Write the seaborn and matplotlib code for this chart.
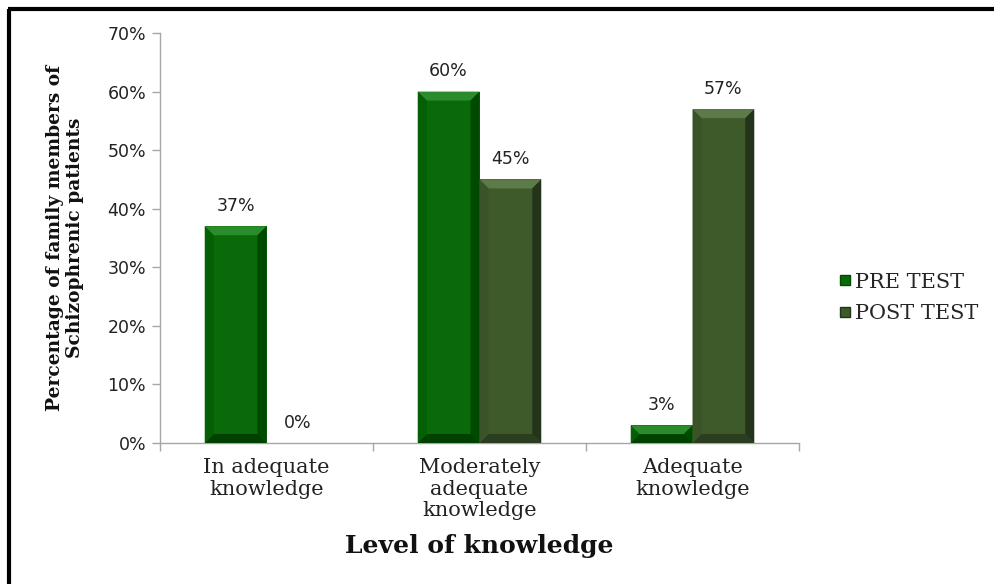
import matplotlib
matplotlib.use("Agg")
import matplotlib.pyplot as plt
import matplotlib.transforms as mtransforms
from matplotlib.patches import Polygon
from matplotlib.lines import Line2D
import seaborn as sns
import pandas as pd
import numpy as np

categories = ["In adequate\nknowledge", "Moderately\nadequate\nknowledge", "Adequate\nknowledge"]
series_names = ["PRE TEST", "POST TEST"]
pre_test = [37, 60, 3]
post_test = [0, 45, 57]
y_ticks = [0, 10, 20, 30, 40, 50, 60, 70]

face = {"PRE TEST": "#0a6a0a", "POST TEST": "#3e5a2b"}
light = {"PRE TEST": "#2a8c2a", "POST TEST": "#5d7b49"}
dark = {"PRE TEST": "#004a00", "POST TEST": "#23341a"}
darker = {"PRE TEST": "#004000", "POST TEST": "#2a3d1f"}
lside = {"PRE TEST": "#056005", "POST TEST": "#3a5328"}

df = pd.DataFrame({
    "cat": categories * 2,
    "series": [series_names[0]] * 3 + [series_names[1]] * 3,
    "value": pre_test + post_test,
})

sns.set_style("white")
W, H = 994, 584
fig = plt.figure(figsize=(W / 100, H / 100), dpi=100)
ax = fig.add_axes([160 / W, 1 - 443 / H, (799 - 160) / W, (443 - 33) / H])

sns.barplot(data=df, x="cat", y="value", hue="series", order=categories,
            hue_order=series_names, palette=face, width=0.58, gap=0,
            ax=ax, legend=False, saturation=1, edgecolor="none", linewidth=0)

ax.set_ylim(0, 70)
ax.set_xlim(-0.5, 2.5)
ax.set_yticks(y_ticks)
ax.set_yticklabels([f"{t}%" for t in y_ticks], family="DejaVu Sans", fontsize=12.5, color="#222222")
ax.tick_params(axis="y", length=6, width=1, color="#a6a6a6", pad=4, direction="out", left=True)
ax.set_xticks(range(3))
ax.set_xticklabels(categories, family="DejaVu Serif", fontsize=15, color="#222222", linespacing=1.15)
ax.tick_params(axis="x", length=0, pad=11)
ax.set_xticks([-0.5, 0.5, 1.5, 2.5], minor=True)
ax.tick_params(axis="x", which="minor", length=6, width=1, color="#a6a6a6", direction="out", bottom=True)
for s in ["top", "right"]:
    ax.spines[s].set_visible(False)
for s in ["left", "bottom"]:
    ax.spines[s].set_color("#a6a6a6")
    ax.spines[s].set_linewidth(1)
ax.set_xlabel("")
ax.set_ylabel("")

fig.text(479 / W, 1 - 546 / H, "Level of knowledge", family="DejaVu Serif", fontweight="bold",
         fontsize=18, ha="center", va="center", color="#111111")
fig.text(65 / W, 1 - 238 / H, "Percentage of family members of\nSchizophrenic patients",
         family="DejaVu Serif", fontweight="bold", fontsize=13.4, rotation=90,
         ha="center", va="center", linespacing=1.2, color="#111111")

# data labels
for cont, name in zip(ax.containers, series_names):
    vals = pre_test if name == "PRE TEST" else post_test
    for bar, v in zip(cont, vals):
        cx = bar.get_x() + bar.get_width() / 2
        ax.annotate(f"{v}%", (cx, bar.get_height()), xytext=(0, 8), textcoords="offset points",
                    ha="center", va="bottom", family="DejaVu Sans", fontsize=12.5, color="#222222")

fig.canvas.draw()
ident = mtransforms.IdentityTransform()
for cont, name in zip(ax.containers, series_names):
    for bar in cont:
        bb = bar.get_window_extent()
        x0, x1, y0, y1 = bb.x0, bb.x1, bb.y0, bb.y1
        if y1 - y0 < 1:
            continue
        b = min(9, (x1 - x0) / 2, (y1 - y0) / 2)
        polys = [
            ([(x0, y1), (x1, y1), (x1 - b, y1 - b), (x0 + b, y1 - b)], light[name]),
            ([(x1, y1), (x1, y0), (x1 - b, y0 + b), (x1 - b, y1 - b)], dark[name]),
            ([(x0, y0), (x1, y0), (x1 - b, y0 + b), (x0 + b, y0 + b)], darker[name]),
            ([(x0, y0), (x0, y1), (x0 + b, y1 - b), (x0 + b, y0 + b)], lside[name]),
        ]
        for pts, c in polys:
            fig.add_artist(Polygon(pts, closed=True, facecolor=c, edgecolor="none",
                                   transform=ident, zorder=5))

handles = [Line2D([], [], marker="s", linestyle="none", markersize=7,
                  markerfacecolor=face[n], markeredgecolor=dark[n]) for n in series_names]
fig.legend(handles, series_names, loc="center left", bbox_to_anchor=(828 / W, 1 - 298 / H),
           frameon=False, prop={"family": "DejaVu Serif", "size": 15}, handletextpad=0.1,
           labelspacing=0.6, handlelength=0.8, borderaxespad=0)

# outer frame (left and top)
fig.add_artist(Line2D([9, 9], [0, H - 9], transform=ident, color="black", linewidth=3, solid_capstyle="butt"))
fig.add_artist(Line2D([7.5, W], [H - 9, H - 9], transform=ident, color="black", linewidth=3, solid_capstyle="butt"))

fig.savefig("out.png", dpi=100)
